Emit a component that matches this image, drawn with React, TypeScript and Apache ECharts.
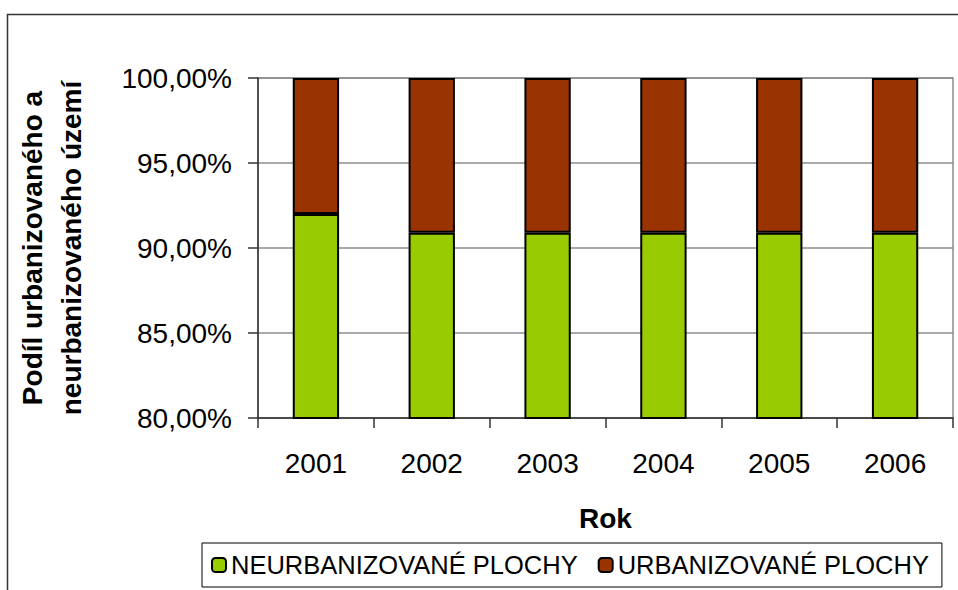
import React, { useEffect, useRef } from "react";
import * as echarts from "echarts";

const categories = ["2001", "2002", "2003", "2004", "2005", "2006"];
const neurbanValues = [92.0, 90.9, 90.9, 90.9, 90.9, 90.9];
const urbanValues = [8.0, 9.1, 9.1, 9.1, 9.1, 9.1];
const seriesNames = ["NEURBANIZOVANÉ PLOCHY", "URBANIZOVANÉ PLOCHY"];
const yMin = 80;
const yMax = 100;
const yStep = 5;

const FONT = "'Liberation Sans', Arial, sans-serif";

export default function App() {
  const ref = useRef<HTMLDivElement>(null);
  useEffect(() => {
    document.body.style.margin = "0";
    const chart = echarts.init(ref.current!, undefined, { renderer: "svg" });
    chart.setOption({
      animation: false,
      backgroundColor: "#ffffff",
      textStyle: { fontFamily: FONT },
      graphic: [
        {
          type: "rect",
          left: 5,
          top: 12,
          shape: { width: 1000, height: 700 },
          style: { fill: "none", stroke: "#333333", lineWidth: 1.5 },
          silent: true,
        },
      ],
      grid: {
        left: 258,
        right: 5,
        top: 78,
        bottom: 172,
        show: true,
        borderColor: "#8c8c8c",
        borderWidth: 1.5,
        backgroundColor: "transparent",
      },
      legend: {
        left: 202,
        top: 543,
        orient: "horizontal",
        data: seriesNames,
        itemWidth: 14,
        itemHeight: 14,
        itemGap: 20,
        padding: [9, 13, 9, 9],
        borderColor: "#000000",
        borderWidth: 1,
        textStyle: { fontSize: 25.5, color: "#000000", fontFamily: FONT },
      },
      xAxis: {
        type: "category",
        data: categories,
        name: "Rok",
        nameLocation: "middle",
        nameGap: 86,
        nameTextStyle: { fontSize: 28, fontWeight: "bold", color: "#000", fontFamily: FONT },
        axisLine: { lineStyle: { color: "#333333", width: 1.5 } },
        axisTick: { show: true, length: 10, lineStyle: { color: "#333333", width: 1.5 } },
        axisLabel: { fontSize: 28, color: "#000", margin: 31, fontFamily: FONT },
      },
      yAxis: {
        type: "value",
        min: yMin,
        max: yMax,
        interval: yStep,
        name: "Podíl urbanizovaného a\nneurbanizovaného území",
        nameLocation: "middle",
        nameGap: 167,
        nameRotate: 90,
        nameTextStyle: {
          fontSize: 28,
          fontWeight: "bold",
          color: "#000",
          lineHeight: 39,
          fontFamily: FONT,
        },
        axisLine: { show: true, lineStyle: { color: "#333333", width: 1.5 } },
        axisTick: { show: true, inside: false, length: 10, lineStyle: { color: "#333333", width: 1.5 } },
        axisLabel: {
          fontSize: 28,
          color: "#000",
          margin: 26,
          fontFamily: FONT,
          formatter: (v: number) => v.toFixed(2).replace(".", ",") + "%",
        },
        splitLine: { show: true, lineStyle: { color: "#8c8c8c", width: 1.5 } },
      },
      series: [
        {
          name: seriesNames[0],
          type: "bar",
          stack: "total",
          barWidth: "40%",
          data: neurbanValues,
          itemStyle: { color: "#99cc00", borderColor: "#000000", borderWidth: 2 },
        },
        {
          name: seriesNames[1],
          type: "bar",
          stack: "total",
          barWidth: "40%",
          data: urbanValues,
          itemStyle: { color: "#993300", borderColor: "#000000", borderWidth: 2 },
        },
      ],
    });
    return () => chart.dispose();
  }, []);
  return (
    <div
      ref={ref}
      style={{ position: "absolute", left: 0, top: 0, width: 958, height: 590 }}
    />
  );
}
